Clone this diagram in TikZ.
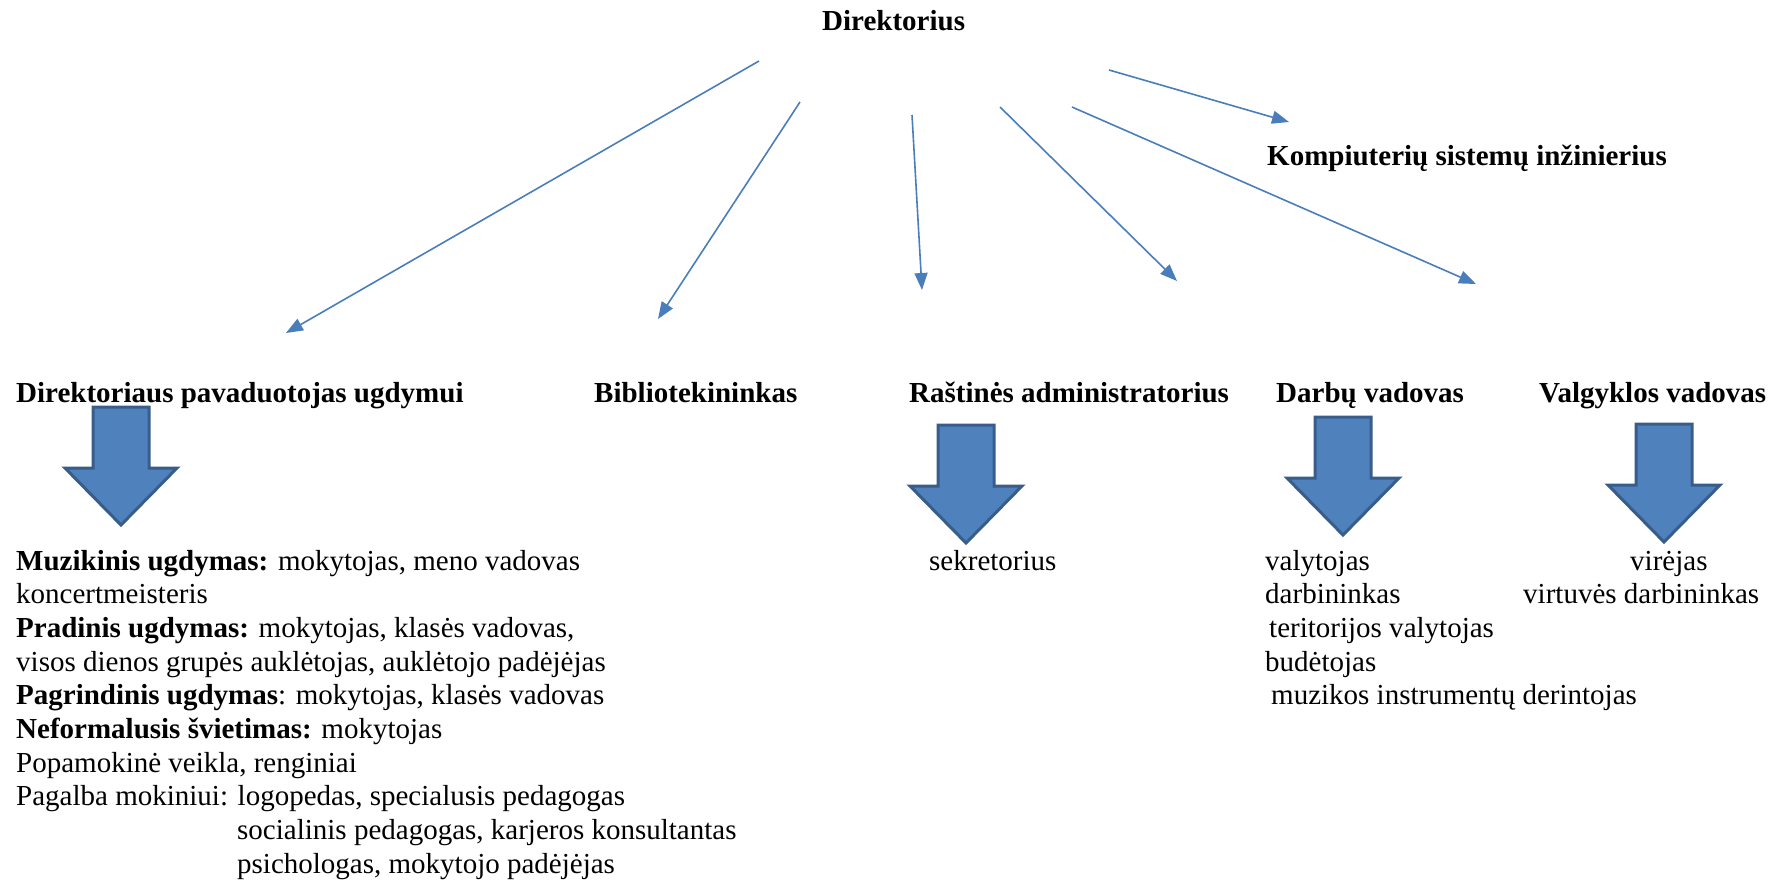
\documentclass[tikz,border=0pt]{standalone}
\usepackage{fontspec}
\setmainfont{Liberation Serif}
\usetikzlibrary{arrows.meta}
\definecolor{lineblue}{HTML}{4A7EBB}
\definecolor{fillblue}{HTML}{4F81BD}
\definecolor{edgeblue}{HTML}{385D8A}
\tikzset{
  txt/.style={inner sep=0pt, anchor=base west},
  head/.style={txt, font=\fontsize{29}{34}\selectfont\bfseries},
  link/.style={draw=lineblue, line width=1.6pt, -{Triangle[length=17pt,width=13pt]}},
  bigarrow/.pic={
    \path[fill=fillblue, draw=edgeblue, line width=3pt, line join=miter]
      (-28,0) -- (28,0) -- (28,61) -- (56,61) -- (0,118) -- (-56,61) -- (-28,61) -- cycle;
  }
}
\begin{document}
\begin{tikzpicture}[x=1pt, y=-1pt, font=\fontsize{29}{34}\selectfont]
\useasboundingbox (0,0) rectangle (1790,881);

% headers
\node[head] (dir) at (822,30) {Direktorius};
\node[head] (komp) at (1267,165) {Kompiuterių sistemų inžinierius};
\node[head] (pav) at (16,402) {Direktoriaus pavaduotojas ugdymui};
\node[head] (bib) at (594,402) {Bibliotekininkas};
\node[head] (rast) at (909,402) {Raštinės administratorius};
\node[head] (darb) at (1276,402) {Darbų vadovas};
\node[head] (valg) at (1539,402) {Valgyklos vadovas};

% thin connectors
\coordinate (s1) at (759,61);  \coordinate (e1) at (286,333);
\coordinate (s2) at (800,102); \coordinate (e2) at (658,319);
\coordinate (s3) at (912,115); \coordinate (e3) at (922,290);
\coordinate (s4) at (1000,107); \coordinate (e4) at (1177,281);
\coordinate (s5) at (1072,107); \coordinate (e5) at (1476,284);
\coordinate (s6) at (1109,70); \coordinate (e6) at (1289,122);
\draw[link] (s1) -- (e1);
\draw[link] (s2) -- (e2);
\draw[link] (s3) -- (e3);
\draw[link] (s4) -- (e4);
\draw[link] (s5) -- (e5);
\draw[link] (s6) -- (e6);

% block arrows
\pic at (121,407) {bigarrow};
\pic at (966,425) {bigarrow};
\pic at (1343,417) {bigarrow};
\pic at (1664,424) {bigarrow};

% left column
\node[txt] (l1) at (16,570) {\textbf{Muzikinis ugdymas:} mokytojas, meno vadovas};
\node[txt] (l2) at (16,603.7) {koncertmeisteris};
\node[txt] (l3) at (16,637.3) {\textbf{Pradinis ugdymas:} mokytojas, klasės vadovas,};
\node[txt] (l4) at (16,671) {visos dienos grupės auklėtojas, auklėtojo padėjėjas};
\node[txt] (l5) at (16,704.7) {\textbf{Pagrindinis ugdymas}: mokytojas, klasės vadovas};
\node[txt] (l6) at (16,738.3) {\textbf{Neformalusis švietimas:} mokytojas};
\node[txt] (l7) at (16,772) {Popamokinė veikla, renginiai};
\node[txt] (l8) at (16,805.7) {Pagalba mokiniui: logopedas, specialusis pedagogas};
\node[txt] (l9) at (237,839.3) {socialinis pedagogas, karjeros konsultantas};
\node[txt] (l10) at (237,873) {psichologas, mokytojo padėjėjas};

% office
\node[txt] (sek) at (929,570) {sekretorius};

% works
\node[txt] (w1) at (1265,570) {valytojas};
\node[txt] (w2) at (1265,603.7) {darbininkas};
\node[txt] (w3) at (1269,637.3) {teritorijos valytojas};
\node[txt] (w4) at (1265,671) {budėtojas};
\node[txt] (w5) at (1271,704.7) {muzikos instrumentų derintojas};

% canteen
\node[txt] (c1) at (1630,570) {virėjas};
\node[txt] (c2) at (1523,603.7) {virtuvės darbininkas};
\end{tikzpicture}
\end{document}
